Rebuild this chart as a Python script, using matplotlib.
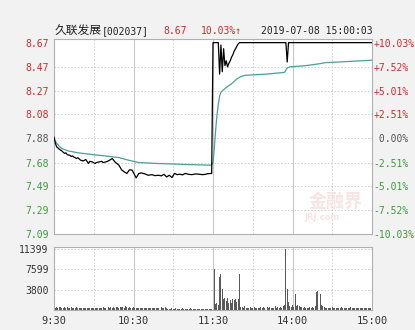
import numpy as np
import matplotlib
matplotlib.use("Agg")
import matplotlib.pyplot as plt

# price line, key points (minute index from 9:30, 120 = 11:30/13:00)
price_min = [0, 1, 2, 3, 4, 6, 8, 9, 10, 12, 13, 14, 15, 17, 18, 20, 22, 24, 26, 27,
             29, 31, 32, 34, 36, 37, 39, 41, 44, 46, 49, 51, 53, 55, 57, 59, 61, 62, 64, 66,
             69, 71, 74, 76, 79, 81, 83, 85, 87, 89, 91, 93, 95, 97, 99, 102, 104, 107, 109, 112,
             114, 116, 119,
             120, 124, 125, 126, 127, 128, 129, 130, 131, 132, 133, 134, 135, 136, 137, 138, 139, 140,
             175, 176, 177, 240]
price_val = [7.89, 7.84, 7.81, 7.80, 7.79, 7.775, 7.755, 7.76, 7.745, 7.74, 7.73, 7.735, 7.725, 7.713, 7.72, 7.70, 7.693, 7.705, 7.672, 7.69,
             7.685, 7.672, 7.68, 7.685, 7.69, 7.68, 7.685, 7.693, 7.713, 7.685, 7.658, 7.62, 7.603, 7.59, 7.62, 7.617, 7.575, 7.553, 7.59, 7.594,
             7.585, 7.575, 7.58, 7.572, 7.575, 7.57, 7.583, 7.561, 7.575, 7.556, 7.59, 7.58, 7.584, 7.578, 7.59, 7.582, 7.58, 7.586, 7.584, 7.58,
             7.582, 7.588, 7.59,
             8.67, 8.67, 8.41, 8.65, 8.43, 8.62, 8.48, 8.52, 8.47, 8.50, 8.52, 8.55, 8.57, 8.60, 8.62, 8.64, 8.66, 8.67,
             8.67, 8.51, 8.67, 8.67]

# average price line
avg_min = [0, 2, 4, 6, 11, 19, 29, 39, 49, 56, 64, 79, 99, 119, 120, 121, 122, 123, 124, 125,
           126, 128, 130, 134, 138, 141, 144, 160, 170, 174, 176, 178, 190, 200, 205, 215, 240]
avg_val = [7.877, 7.84, 7.815, 7.795, 7.775, 7.759, 7.746, 7.734, 7.721, 7.70, 7.68, 7.672, 7.664, 7.658, 7.68, 7.80, 7.95, 8.07, 8.16, 8.23,
           8.26, 8.28, 8.30, 8.33, 8.37, 8.39, 8.40, 8.41, 8.42, 8.425, 8.46, 8.47, 8.48, 8.495, 8.505, 8.51, 8.525]

# volume per minute
volume = [820, 450, 520, 380, 470, 560, 400, 430, 510, 360,
          480, 420, 390, 520, 440, 350, 410, 470, 380, 330,
          420, 390, 460, 350, 400, 430, 370, 410, 380, 440,
          360, 410, 390, 450, 370, 420, 400, 480, 350, 430,
          460, 520, 390, 610, 440, 500, 380, 470, 560, 420,
          480, 610, 530, 450, 700, 520, 430, 480, 390, 450,
          560, 420, 380, 360, 400, 340, 370, 320, 350, 380,
          330, 360, 310, 340, 390, 350, 300, 370, 420, 330,
          360, 480, 320, 290, 510, 300, 280, 260, 240, 310,
          180, 220, 400, 260, 230, 190, 280, 300, 210, 250,
          240, 200, 230, 420, 260, 210, 190, 230, 250, 220,
          200, 260, 180, 240, 210, 190, 230, 170, 220, 260,
          400, 7750, 1100, 1300, 900, 6100, 6800, 4000, 2100, 2300,
          1600, 2300, 1400, 1800, 1300, 2000, 1900, 2000, 1500, 2100, 6800,
          600, 500, 400, 700, 450, 300, 350, 500, 300, 400,
          550, 350, 450, 300, 400, 500, 350, 600, 400, 450,
          500, 350, 600, 400, 300, 450, 700, 400, 500, 350,
          600, 450, 800, 1000,
          11399, 3900, 1500, 800, 600, 900, 500, 3000, 700,
          900, 800, 600, 500,
          400, 500, 350, 450, 400, 600, 300, 500, 400, 700,
          3300, 3600, 1500, 2900,
          900, 700, 500, 400,
          350, 450, 300, 400, 550, 350, 300, 450, 400, 350,
          300, 500, 400, 350, 450, 300, 400, 350, 500, 300,
          400, 350, 450, 300, 350, 400, 300, 450, 350, 400,
          300, 350, 450, 400, 800]

price_ticks = [8.67, 8.47, 8.27, 8.08, 7.88, 7.68, 7.49, 7.29, 7.09]
price_labels = ["8.67", "8.47", "8.27", "8.08", "7.88", "7.68", "7.49", "7.29", "7.09"]
pct_labels = ["+10.03%", "+7.52%", "+5.01%", "+2.51%", " 0.00%", "-2.51%", "-5.01%", "-7.52%", "-10.03%"]
vol_ticks = [11399, 7599, 3800]
time_ticks = [0, 60, 120, 180, 240]
time_labels = ["9:30", "10:30", "11:30", "14:00", "15:00"]

RED = "#cc2b2b"
GREEN = "#3d9a3d"
GRAY = "#555555"
GRID = "#c8c8c8"
MONO = "DejaVu Sans Mono"

W, H = 415, 330
fig = plt.figure(figsize=(W / 100, H / 100), dpi=100, facecolor="#f2f2f2")


def px_box(l, t, r, b):
    return [l / W, 1 - b / H, (r - l) / W, (b - t) / H]


ax = fig.add_axes(px_box(54, 39, 372, 234))
axv = fig.add_axes(px_box(54, 247, 372, 310))

for a in (ax, axv):
    a.set_facecolor("white")
    a.set_xlim(0, 240)
    for s in a.spines.values():
        s.set_color("#b0b0b0")
        s.set_linewidth(0.8)
    for m in (30, 90, 150, 210):
        a.axvline(m, color=GRID, lw=0.6, ls=(0, (2, 2)), zorder=0)
    for m in (60, 120, 180):
        a.axvline(m, color=GRID, lw=0.8, zorder=0)

# main price chart
ax.set_ylim(7.09, 8.70)
for p in price_ticks[1:-1]:
    ax.axhline(p, color=GRID, lw=0.6, ls=(0, (2, 2)), zorder=0)

# watermark (faint, lower right of the price panel)
fig.text(336 / W, 1 - 201 / H, "金融界", family="Noto Sans CJK SC", fontsize=13,
         fontweight="bold", color="#f7e4e4", ha="center", va="center", zorder=1)
fig.text(322 / W, 1 - 218 / H, "JRJ.com", family="DejaVu Sans", fontsize=6,
         fontweight="bold", color="#f7e4e4", ha="center", va="center", zorder=1)

ax.plot(avg_min, avg_val, color="#4c9e99", lw=0.9, zorder=2)
ax.plot(price_min, price_val, color="black", lw=0.9, zorder=3)
ax.set_xticks([])
ax.set_yticks(price_ticks)
ax.set_yticklabels(price_labels, family=MONO, fontsize=7)
ax.tick_params(axis="y", length=0, pad=4)
for i, lab in enumerate(ax.get_yticklabels()):
    lab.set_color(RED if i < 4 else (GRAY if i == 4 else GREEN))

axr = ax.twinx()
axr.set_ylim(ax.get_ylim())
axr.set_yticks(price_ticks)
axr.set_yticklabels(pct_labels, family=MONO, fontsize=7)
axr.tick_params(axis="y", length=0, pad=1)
for s in axr.spines.values():
    s.set_visible(False)
for i, lab in enumerate(axr.get_yticklabels()):
    lab.set_color(RED if i < 4 else (GRAY if i == 4 else GREEN))

# volume chart
x = np.arange(len(volume))
axv.bar(x, volume, width=0.75, color="#5a5a5a", zorder=2)
axv.set_ylim(0, 11773)
for v in vol_ticks:
    axv.axhline(v, color=GRID, lw=0.6, ls=(0, (2, 2)), zorder=0)
axv.set_yticks(vol_ticks)
axv.set_yticklabels([str(v) for v in vol_ticks], family=MONO, fontsize=7, color="#333333")
axv.set_xticks(time_ticks)
axv.set_xticklabels(time_labels, family=MONO, fontsize=7.5, color="#333333")
axv.tick_params(axis="y", length=0, pad=4)
axv.tick_params(axis="x", length=0, pad=4)

# header
def top_text(xp, yp, s, **kw):
    fig.text(xp / W, 1 - yp / H, s, va="center", ha="left", **kw)

top_text(55, 31.5, "久联发展", family="Noto Sans CJK SC", fontsize=8.5, color="#222222")
top_text(102, 31.5, "[002037]", family=MONO, fontsize=7, color="#222222")
top_text(163, 31.5, "8.67", family=MONO, fontsize=7, color=RED)
top_text(201, 31.5, "10.03%↑", family=MONO, fontsize=7, color=RED)
top_text(261, 31.5, "2019-07-08 15:00:03", family=MONO, fontsize=7, color="#222222")

fig.savefig("out.png", dpi=100, facecolor=fig.get_facecolor())
